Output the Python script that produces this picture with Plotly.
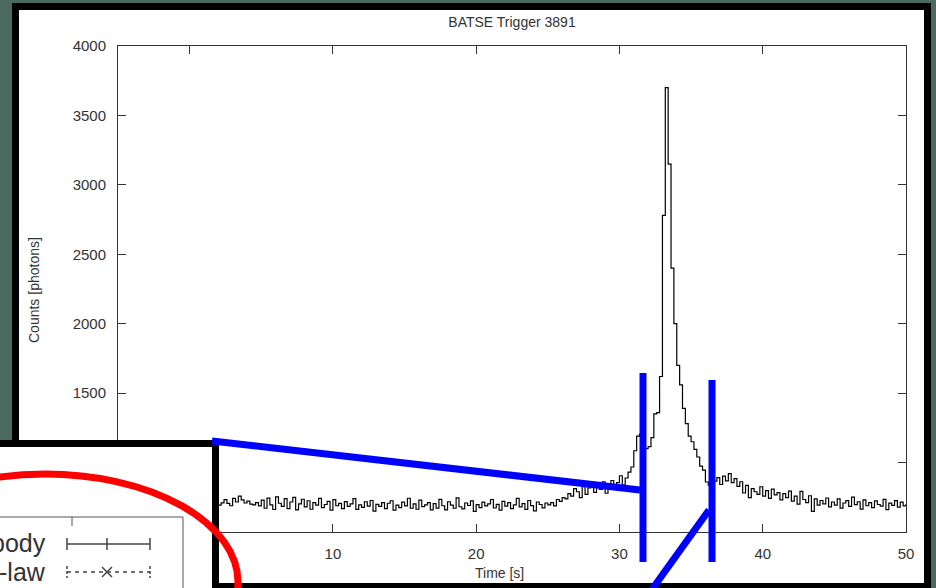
import numpy as np
import plotly.graph_objects as go

# ---------------- data ----------------
T_START = -5.0
BIN_WIDTH = 0.2

pre_burst = [
    712, 695, 731, 688, 704, 742, 676, 719, 701, 690,
    725, 683, 708, 746, 671, 699, 716, 687, 733, 694,
    705, 668, 721, 739, 690, 712, 679, 703, 748, 686,
    698, 727, 681, 715, 752, 694, 710, 733, 706, 689,
    742, 716, 758, 731, 709, 723, 701, 696, 712, 688,
    730, 671, 744, 695, 662, 753, 707, 684, 740, 668,
    716, 749, 659, 702, 736, 681, 725, 664, 711, 693,
    742, 675, 698, 721, 657, 733, 689, 706, 668, 719,
    684, 702, 741, 663, 695, 677, 718, 686, 727, 651,
    699, 684, 712, 669, 707, 725, 658, 693, 676, 715,
    688, 743, 671, 702, 664, 729, 683, 695, 712, 660,
    704, 672, 735, 689, 659, 718, 694, 671, 746, 682,
    667, 709, 691, 724, 648, 697, 676, 715, 688, 702,
    734, 673, 699, 657, 720, 686, 711, 668, 695, 742,
    681, 704, 663, 727, 690, 652, 716, 698, 674, 709,
]
rise = [
    695, 712, 688, 734, 721, 748, 739, 776, 758, 812,
    790, 748, 826, 771, 818, 842, 785, 833, 806, 862,
    779, 848, 871, 812, 856, 905, 838, 889, 931, 968,
    1085, 1190,
]
main_pulse = [
    1205, 1150, 1100, 1115, 1180, 1350, 1360, 1620, 2780, 3700,
    3150, 2400, 2000, 1700, 1560, 1390, 1280, 1190, 1150, 1095,
    1040, 975, 945, 860,
]
decay_tail = [
    838, 812, 866, 891, 842, 903, 868, 921, 855, 884,
    829, 862, 781, 836, 748, 812, 790, 771, 826, 759,
    798, 742, 809, 767, 784, 731, 776, 748, 795, 722,
    758, 701, 792, 734, 712, 761, 648, 739, 694, 727,
    702, 745, 681, 716, 693, 738, 672, 709, 726, 684,
    751, 697, 718, 665, 731, 689, 712, 676, 724, 698,
    687, 735, 661, 708, 692, 726, 679, 715, 688, 702,
]
counts = pre_burst + rise + main_pulse + decay_tail
time_s = np.round(T_START + BIN_WIDTH * np.arange(len(counts)), 3)

x_ticks = [0, 10, 20, 30, 40, 50]
y_ticks = [500, 1000, 1500, 2000, 2500, 3000, 3500, 4000]
X_RANGE = [-5, 50]
Y_RANGE = [500, 4000]

TITLE = "BATSE Trigger 3891"
X_TITLE = "Time [s]"
Y_TITLE = "Counts [photons]"
LEGEND_TEXTS = ["body", "-law"]

# ---------------- layout geometry (pixels) ----------------
W, H = 936, 588
L, R, T, B = 118, 906, 46, 532


def px(x):
    return (x - L) / (R - L)


def py(y):
    return (B - y) / (B - T)


def rect(x0, y0, x1, y1, fill=None, line_color=None, lw=0, layer="above"):
    d = dict(type="rect", xref="paper", yref="paper",
             x0=px(x0), x1=px(x1), y0=py(y1), y1=py(y0), layer=layer,
             line=dict(width=lw, color=line_color or "rgba(0,0,0,0)"))
    if fill:
        d["fillcolor"] = fill
    return d


def seg(x0, y0, x1, y1, color, lw, dash="solid"):
    return dict(type="line", xref="paper", yref="paper",
                x0=px(x0), y0=py(y0), x1=px(x1), y1=py(y1),
                line=dict(color=color, width=lw, dash=dash))


TXT = "#333333"
FONT = "Liberation Sans, Arial, sans-serif"
BLUE = "#0000ff"
BG = "#4b6a5f"

fig = go.Figure()
fig.add_trace(go.Scatter(
    x=time_s, y=counts, mode="lines",
    line=dict(color="black", width=1.2, shape="hv"),
    showlegend=False, hoverinfo="skip"))

shapes = [
    # white slide panel with thick black frame
    rect(12, 3, 931, 600, fill="black", layer="below"),
    rect(19, 10, 924, 583, fill="white", layer="below"),
    # overlapping inset panel at lower left
    rect(-20, 440, 219, 600, fill="black"),
    rect(-20, 447, 212, 600, fill="white"),
    rect(-20, 517, 183, 600, line_color="#555555", lw=1),
    seg(72, 517, 72, 526, "#555555", 1),
    # legend sample: solid line with error bars
    seg(67, 544, 150, 544, "#444444", 1.5),
    seg(67, 538, 67, 550, "#444444", 1.5),
    seg(107, 538, 107, 550, "#444444", 1.5),
    seg(150, 538, 150, 550, "#444444", 1.5),
    # legend sample: dashed line with cross
    seg(67, 572, 150, 572, "#444444", 1.5, dash="4px,4px"),
    seg(67, 566, 67, 578, "#444444", 1.5, dash="3px,2px"),
    seg(150, 566, 150, 578, "#444444", 1.5, dash="3px,2px"),
    seg(102, 567, 112, 577, "#444444", 1.5),
    seg(102, 577, 112, 567, "#444444", 1.5),
    # red ellipse
    dict(type="circle", xref="paper", yref="paper",
         x0=px(45 - 193), x1=px(45 + 193), y0=py(582 + 108), y1=py(582 - 108),
         line=dict(color="#ff0000", width=7)),
    # blue annotation strokes
    seg(212, 441, 640, 490, BLUE, 7),
    seg(643, 373, 643, 562, BLUE, 7),
    seg(712, 380, 712, 562, BLUE, 7),
    seg(709, 510, 648, 595, BLUE, 7),
]

annotations = [
    dict(text=LEGEND_TEXTS[0], xref="paper", yref="paper", x=px(48), y=py(543),
         xanchor="right", yanchor="middle", showarrow=False,
         font=dict(size=25, color=TXT, family=FONT)),
    dict(text=LEGEND_TEXTS[1], xref="paper", yref="paper", x=px(48), y=py(572),
         xanchor="right", yanchor="middle", showarrow=False,
         font=dict(size=25, color=TXT, family=FONT)),
    dict(text=X_TITLE, xref="paper", yref="paper", x=px(499), y=py(573),
         xanchor="center", yanchor="middle", showarrow=False,
         font=dict(size=14, color=TXT, family=FONT)),
    dict(text=Y_TITLE, xref="paper", yref="paper", x=px(34), y=py(290),
         xanchor="center", yanchor="middle", showarrow=False, textangle=-90,
         font=dict(size=14, color=TXT, family=FONT)),
]

axis_common = dict(
    showgrid=False, zeroline=False, showline=True, linecolor="#333333",
    linewidth=1, mirror="ticks", ticks="inside", ticklen=8, tickwidth=1,
    tickcolor="#333333", tickfont=dict(size=15, color=TXT, family=FONT),
)

fig.update_layout(
    width=W, height=H,
    margin=dict(l=L, r=W - R, t=T, b=H - B, pad=0),
    paper_bgcolor=BG, plot_bgcolor="white",
    title=dict(text=TITLE, x=0.5, xref="paper", xanchor="center",
               y=1 - 22 / H, yref="container", yanchor="middle",
               font=dict(size=14, color=TXT, family=FONT)),
    xaxis=dict(range=X_RANGE, tickvals=x_ticks, ticklabelstandoff=8, **axis_common),
    yaxis=dict(range=Y_RANGE, tickvals=y_ticks, ticklabelstandoff=8, **axis_common),
    shapes=shapes, annotations=annotations, showlegend=False,
)

fig.write_html(
    "out.html",
    config={"displayModeBar": False},
    post_script=(
        "document.body.style.margin='0';"
        "document.body.style.overflow='hidden';"
        f"document.body.style.background='{BG}';"
    ),
)
